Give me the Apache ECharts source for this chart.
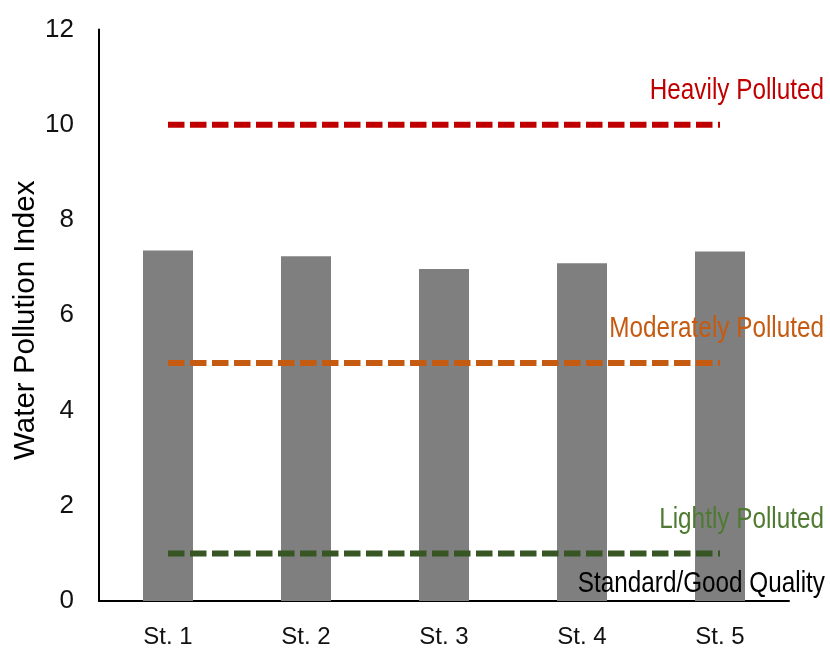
<!DOCTYPE html>
<html>
<head>
<meta charset="utf-8">
<script src="https://cdn.jsdelivr.net/npm/echarts@6/dist/echarts.min.js"></script>
<style>
  html, body { margin: 0; padding: 0; background: #fff; }
  #chart { width: 830px; height: 650px; }
</style>
</head>
<body>
<div id="chart"></div>
<script>
// Stations and their water pollution index
const stations = ['St. 1', 'St. 2', 'St. 3', 'St. 4', 'St. 5'];
const pollutionIndex = [7.36, 7.24, 6.97, 7.09, 7.34];

// Classification thresholds drawn as dashed reference lines
const thresholdValues = [10, 5, 1];
const thresholdNames = ['Heavily Polluted', 'Moderately Polluted', 'Lightly Polluted'];
const thresholdLineColors = ['#C00000', '#C55A11', '#375623'];
const thresholdTextColors = ['#C00000', '#C55A11', '#4E7A32'];

// Label for the band below the lowest threshold
const baseBandName = 'Standard/Good Quality';
const baseBandLabelValue = 0.36;

// Y axis ticks
const yMin = 0, yMax = 12, yStep = 2;

const baseFont = '"Liberation Sans", Arial, sans-serif';

const chart = echarts.init(document.getElementById('chart'), null, { renderer: 'canvas' });

const lineSeries = thresholdValues.map((v, i) => ({
  type: 'line',
  name: thresholdNames[i],
  data: stations.map(() => v),
  showSymbol: false,
  symbol: 'none',
  silent: true,
  z: 3,
  lineStyle: {
    color: thresholdLineColors[i],
    width: 6,
    type: [16.5, 5.5],
    cap: 'butt'
  }
}));

chart.setOption({
  animation: false,
  grid: {
    left: 99, right: 41, top: 29.5, bottom: 49,
    containLabel: false,
    outerBoundsMode: 'none'
  },
  xAxis: {
    type: 'category',
    data: stations,
    axisLine: { show: true, lineStyle: { color: '#000', width: 2 } },
    axisTick: { show: false },
    axisLabel: {
      color: '#111',
      fontFamily: baseFont,
      fontSize: 24,
      margin: 24
    },
    splitLine: { show: false }
  },
  yAxis: {
    type: 'value',
    min: yMin,
    max: yMax,
    interval: yStep,
    name: 'Water Pollution Index',
    nameLocation: 'middle',
    nameGap: 58,
    nameMoveOverlap: false,
    nameTextStyle: {
      color: '#000',
      fontFamily: baseFont,
      fontSize: 29.5,
      padding: [0, 10, 0, 0]
    },
    axisLine: { show: true, lineStyle: { color: '#000', width: 2 } },
    axisTick: { show: false },
    axisLabel: {
      color: '#111',
      fontFamily: baseFont,
      fontSize: 26,
      margin: 25
    },
    splitLine: { show: false }
  },
  series: [
    {
      type: 'bar',
      name: 'Water Pollution Index',
      data: pollutionIndex,
      barWidth: 50,
      itemStyle: { color: '#7F7F7F' },
      z: 2
    },
    ...lineSeries
  ]
});

// Condensed text label, right-aligned at (x, y)
function condensedText(x, y, text, color) {
  return {
    type: 'text',
    z: 10,
    x: x,
    y: y,
    scaleX: 0.81,
    style: {
      x: 0,
      y: 0,
      text: text,
      fill: color,
      font: '30px ' + baseFont,
      align: 'right',
      verticalAlign: 'middle'
    }
  };
}

// Threshold names, right-aligned above each dashed line
function placeLabels() {
  const lastIdx = stations.length - 1;
  const graphics = thresholdValues.map((v, i) => {
    const p = chart.convertToPixel({ seriesIndex: 1 + i }, [lastIdx, v]);
    return condensedText(p[0] + 104, p[1] - 34, thresholdNames[i], thresholdTextColors[i]);
  });
  const pb = chart.convertToPixel({ seriesIndex: 0 }, [lastIdx, baseBandLabelValue]);
  graphics.push(condensedText(pb[0] + 105, pb[1], baseBandName, '#000'));
  chart.setOption({ graphic: graphics });
}
placeLabels();
</script>
</body>
</html>
